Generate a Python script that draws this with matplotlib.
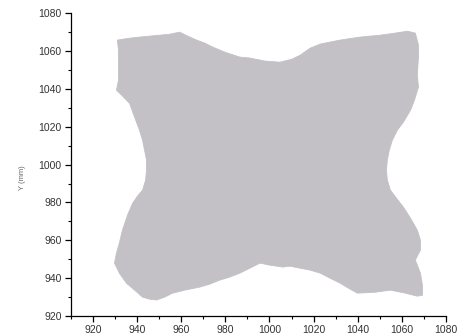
import matplotlib
matplotlib.use("Agg")
import matplotlib.pyplot as plt
from matplotlib.ticker import MultipleLocator

# Outline of the gray region (data coordinates), clockwise from top-left
shape_x = [931.1, 936.6, 941.1, 945.7, 950.2, 954.8, 959.3, 963.0, 967.0, 970.7,
           974.3, 979.8, 986.6, 991.1, 998.0, 1004.8, 1010.2, 1013.9, 1018.4, 1023.0,
           1032.0, 1041.1, 1050.2, 1057.0, 1062.5, 1066.1,
           1067.5, 1067.5, 1067.0, 1067.5, 1065.7, 1063.9, 1060.7, 1058.0, 1055.7, 1054.3,
           1053.4, 1053.0, 1053.4, 1054.8, 1057.5, 1060.7, 1063.9, 1067.0, 1068.4, 1068.4,
           1066.1, 1068.4, 1069.3, 1069.3,
           1067.0, 1061.6, 1054.8, 1048.0, 1039.8, 1035.7, 1032.0, 1027.5, 1023.0, 1018.4,
           1013.9, 1009.3, 1006.1, 1000.2, 995.7, 991.1, 986.6, 982.0, 977.5, 973.0,
           968.4, 961.6, 956.1, 952.5, 948.9, 945.7, 942.5, 938.9, 935.2, 932.0,
           929.8, 930.7, 932.0, 933.4, 935.7, 938.0, 940.2, 942.5, 943.9, 944.3,
           944.3, 943.4, 942.5, 941.1, 938.9, 936.6, 933.0, 930.7, 931.6, 931.6, 931.6]
shape_y = [1065.9, 1066.9, 1067.5, 1068.0, 1068.5, 1069.0, 1070.1, 1068.0, 1065.9, 1064.3,
           1062.2, 1059.5, 1056.9, 1056.4, 1054.8, 1054.2, 1055.8, 1057.9, 1061.6, 1063.8,
           1065.9, 1067.5, 1068.5, 1069.6, 1070.6, 1069.6,
           1063.2, 1056.9, 1047.4, 1041.0, 1034.1, 1028.8, 1022.5, 1018.3, 1013.0, 1007.7,
           1002.4, 997.1, 991.8, 986.5, 982.3, 977.5, 971.7, 965.3, 960.0, 954.8,
           949.5, 942.6, 936.2, 930.9,
           930.4, 932.0, 933.6, 932.5, 932.0, 934.7, 937.3, 939.9, 942.6, 944.2,
           945.2, 946.3, 945.8, 946.8, 947.9, 945.2, 942.6, 940.5, 938.9, 936.8,
           935.2, 933.6, 932.0, 929.9, 928.4, 928.8, 929.9, 933.6, 937.3, 942.6,
           947.9, 953.2, 958.5, 965.3, 973.3, 979.6, 983.3, 986.5, 991.8, 997.1,
           1002.4, 1007.7, 1013.0, 1018.3, 1025.1, 1032.5, 1036.8, 1039.4, 1044.7, 1052.6, 1060.6]

x_ticks = [920, 940, 960, 980, 1000, 1020, 1040, 1060, 1080]
y_ticks = [920, 940, 960, 980, 1000, 1020, 1040, 1060, 1080]
y_label = "Y (mm)"

plt.rcParams['font.family'] = ['Liberation Sans', 'DejaVu Sans']

fig = plt.figure(figsize=(4.72, 3.36), dpi=100)
ax = fig.add_axes([0.150, 0.060, 0.795, 0.900])
ax.fill(shape_x, shape_y, color='#c3c1c6', lw=0.6, ec='#c3c1c6', joinstyle='miter')

ax.set_xlim(910, 1080)
ax.set_ylim(920, 1080)
ax.set_xticks(x_ticks)
ax.set_yticks(y_ticks)
ax.xaxis.set_minor_locator(MultipleLocator(10))
ax.yaxis.set_minor_locator(MultipleLocator(10))
for s in ['top', 'right']:
    ax.spines[s].set_visible(False)
for s in ['left', 'bottom']:
    ax.spines[s].set_linewidth(0.9)
ax.tick_params(which='major', direction='out', length=4, width=0.9,
               labelsize=7.5, labelcolor='#333333', pad=2.5)
ax.tick_params(which='minor', direction='out', length=2, width=0.8)

fig.text(0.047, 0.47, y_label, rotation=90, fontsize=5.5, color='#666666',
         ha='center', va='center')

fig.savefig('out.png', dpi=100)
